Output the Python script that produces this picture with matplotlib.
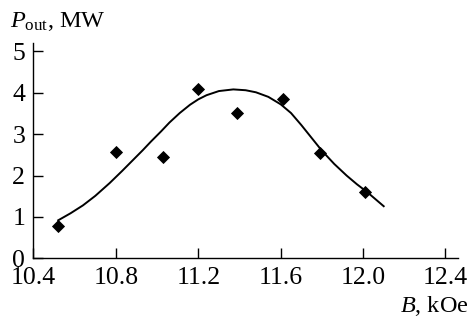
import matplotlib
matplotlib.use("Agg")
import matplotlib.pyplot as plt

plt.rcParams["font.family"] = ["Liberation Serif", "DejaVu Serif"]
plt.rcParams["mathtext.fontset"] = "custom"
plt.rcParams["mathtext.rm"] = "Liberation Serif"
plt.rcParams["mathtext.it"] = "Liberation Serif:italic"

# measured output power vs magnetic field
field = [10.52, 10.80, 11.03, 11.20, 11.39, 11.61, 11.79, 12.01]
power = [0.79, 2.57, 2.44, 4.08, 3.50, 3.86, 2.54, 1.61]

# fitted curve
fit_field = [10.52, 10.58, 10.64, 10.70, 10.77, 10.83, 10.88, 10.93, 10.97, 11.02,
             11.06, 11.11, 11.16, 11.20, 11.24, 11.30, 11.37, 11.43, 11.48, 11.54,
             11.60, 11.65, 11.70, 11.75, 11.80, 11.86, 11.92, 11.97, 12.02, 12.06, 12.10]
fit_power = [0.92, 1.09, 1.28, 1.51, 1.82, 2.11, 2.36, 2.61, 2.82, 3.07,
             3.28, 3.51, 3.71, 3.84, 3.94, 4.04, 4.08, 4.06, 4.01, 3.90,
             3.72, 3.51, 3.22, 2.91, 2.60, 2.28, 2.00, 1.79, 1.60, 1.43, 1.26]

xticks = [10.4, 10.8, 11.2, 11.6, 12.0, 12.4]
yticks = [0, 1, 2, 3, 4, 5]

fig = plt.figure(figsize=(4.71, 3.21), dpi=100)
ax = fig.add_axes([0.0711, 0.195, 0.901, 0.671])

ax.plot(fit_field, fit_power, color="black", lw=1.4, solid_joinstyle="round")
ax.plot(field, power, ls="none", marker="D", ms=6.3, color="black", mew=0.6)

ax.set_xlim(10.4, 12.46)
ax.set_ylim(0, 5.2)
ax.set_xticks(xticks)
ax.set_xticklabels(["%.1f" % t for t in xticks])
ax.set_yticks(yticks)
for s in ["top", "right"]:
    ax.spines[s].set_visible(False)
for s in ["left", "bottom"]:
    ax.spines[s].set_linewidth(1.0)
ax.tick_params(direction="in", length=7, width=1.0, labelsize=18.5)
ax.tick_params(axis="x", pad=6.5)
ax.tick_params(axis="y", pad=6)

fig.text(0.021, 0.915, r"$P_{\rm out}$, MW", fontsize=17.5, ha="left", va="baseline")
fig.text(0.995, 0.028, r"$B$, kOe", fontsize=17.5, ha="right", va="baseline")

fig.savefig("out.png", dpi=100)
